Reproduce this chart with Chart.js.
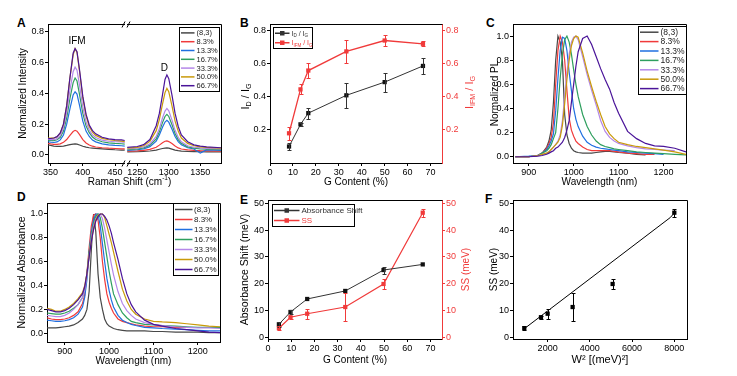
<!DOCTYPE html>
<html>
<head>
<meta charset="utf-8">
<script src="https://cdn.jsdelivr.net/npm/chart.js@4.4.1/dist/chart.umd.min.js"></script>
<style>
  body { margin: 0; background: #fff; width: 737px; height: 376px; overflow: hidden; position: relative; }
  canvas { position: absolute; }
  .tag { position: absolute; font: bold 12px "Liberation Sans", Arial, sans-serif; line-height: 12px; color: #000; }
</style>
</head>
<body>
<div class="tag" style="left:17px;top:17px">A</div>
<div class="tag" style="left:240px;top:17px">B</div>
<div class="tag" style="left:486px;top:17px">C</div>
<div class="tag" style="left:17px;top:191px">D</div>
<div class="tag" style="left:240px;top:194px">E</div>
<div class="tag" style="left:485px;top:193px">F</div>

<canvas id="cA"></canvas>
<canvas id="cB"></canvas>
<canvas id="cC"></canvas>
<canvas id="cD"></canvas>
<canvas id="cE"></canvas>
<canvas id="cF"></canvas>

<script>
// ---- series shared by A, C, D
const seriesNames = ["(8,3)", "8.3%", "13.3%", "16.7%", "33.3%", "50.0%", "66.7%"];
const seriesColors = ["#474747", "#f03a3a", "#1f6fe0", "#2e9f5e", "#b487e8", "#c99a0a", "#4a1499"];

// ---- tick values
const ramanLowTicks = [350, 400, 450];
const ramanHighTicks = [1250, 1300, 1350];
const intensityTicks = [0, 0.2, 0.4, 0.6, 0.8];
const ratioTicks = [0.2, 0.4, 0.6, 0.8];
const contentTicks = [0, 10, 20, 30, 40, 50, 60, 70];
const wavelengthTicks = [900, 1000, 1100, 1200];
const normTicks = [0, 0.2, 0.4, 0.6, 0.8, 1.0];
const meVTicks = [0, 10, 20, 30, 40, 50];
const wTicks = [2000, 4000, 6000, 8000];

// ---- A: Raman, two pieces of the x axis
const ramanLowX = [346, 350, 355, 360, 365, 370, 375, 380, 385, 388, 391, 395, 400, 405, 410, 415, 420, 430, 440, 450, 460, 465];
const ramanLow = [
  [0.065, 0.062, 0.058, 0.056, 0.056, 0.058, 0.062, 0.067, 0.071, 0.072, 0.07, 0.065, 0.057, 0.051, 0.047, 0.045, 0.043, 0.04, 0.037, 0.034, 0.032, 0.031],
  [0.076, 0.072, 0.069, 0.069, 0.072, 0.082, 0.1, 0.127, 0.152, 0.16, 0.154, 0.132, 0.1, 0.078, 0.065, 0.057, 0.052, 0.047, 0.044, 0.042, 0.04, 0.04],
  [0.086, 0.083, 0.081, 0.085, 0.098, 0.13, 0.2, 0.3, 0.39, 0.41, 0.395, 0.32, 0.22, 0.155, 0.12, 0.097, 0.085, 0.072, 0.066, 0.062, 0.06, 0.058],
  [0.096, 0.095, 0.093, 0.099, 0.115, 0.155, 0.24, 0.365, 0.47, 0.5, 0.48, 0.39, 0.27, 0.19, 0.145, 0.117, 0.1, 0.086, 0.079, 0.075, 0.073, 0.071],
  [0.102, 0.1, 0.1, 0.106, 0.125, 0.175, 0.275, 0.42, 0.54, 0.57, 0.55, 0.45, 0.31, 0.215, 0.16, 0.13, 0.113, 0.096, 0.089, 0.086, 0.085, 0.082],
  [0.11, 0.11, 0.11, 0.118, 0.142, 0.2, 0.32, 0.5, 0.65, 0.69, 0.665, 0.54, 0.37, 0.255, 0.185, 0.148, 0.127, 0.108, 0.099, 0.094, 0.09, 0.087],
  [0.106, 0.107, 0.11, 0.119, 0.143, 0.2, 0.32, 0.5, 0.66, 0.69, 0.67, 0.55, 0.38, 0.265, 0.195, 0.158, 0.137, 0.115, 0.105, 0.1, 0.098, 0.094]
];
const ramanHighX = [1234, 1250, 1260, 1270, 1280, 1285, 1290, 1294, 1297, 1300, 1305, 1310, 1315, 1320, 1330, 1340, 1350, 1360, 1383];
const ramanHigh = [
  [0.02, 0.021, 0.023, 0.026, 0.032, 0.037, 0.042, 0.045, 0.046, 0.044, 0.038, 0.032, 0.028, 0.025, 0.023, 0.022, 0.021, 0.02, 0.02],
  [0.025, 0.027, 0.03, 0.036, 0.05, 0.064, 0.08, 0.089, 0.091, 0.087, 0.074, 0.058, 0.046, 0.039, 0.033, 0.03, 0.028, 0.027, 0.025],
  [0.03, 0.034, 0.04, 0.054, 0.09, 0.13, 0.18, 0.214, 0.225, 0.213, 0.168, 0.12, 0.087, 0.066, 0.047, 0.039, 0.012, 0.033, 0.03],
  [0.034, 0.039, 0.046, 0.064, 0.105, 0.15, 0.21, 0.25, 0.264, 0.25, 0.198, 0.14, 0.1, 0.076, 0.053, 0.044, 0.04, 0.038, 0.035],
  [0.039, 0.044, 0.052, 0.072, 0.12, 0.17, 0.24, 0.285, 0.302, 0.286, 0.228, 0.16, 0.115, 0.086, 0.06, 0.05, 0.046, 0.043, 0.04],
  [0.044, 0.05, 0.06, 0.088, 0.158, 0.23, 0.33, 0.405, 0.432, 0.41, 0.32, 0.22, 0.155, 0.11, 0.075, 0.06, 0.053, 0.049, 0.045],
  [0.05, 0.055, 0.067, 0.1, 0.19, 0.27, 0.39, 0.49, 0.52, 0.495, 0.39, 0.27, 0.185, 0.13, 0.086, 0.066, 0.058, 0.053, 0.047]
];
const ramanPeaks = [{text: "IFM", x: 391, y: 0.735, axis: "xL"}, {text: "D", x: 1293, y: 0.563, axis: "xR"}];

// ---- B and E: against G content
const gContent = [8.3, 13.3, 16.7, 33.3, 50.0, 66.7];
const idIg = [0.1, 0.234, 0.302, 0.41, 0.49, 0.588];
const idIgErr = [0.02, 0.01, 0.033, 0.075, 0.057, 0.05];
const ifmIg = [0.18, 0.446, 0.56, 0.676, 0.742, 0.722];
const ifmIgErr = [0.04, 0.03, 0.046, 0.07, 0.031, 0.016];

const gContentE = [4.7, 9.7, 16.9, 33.3, 49.8, 66.7];
const absShift = [4.85, 9.45, 14.3, 17.3, 25.1, 27.2];
const absShiftErr = [1.0, 0.8, 0, 0, 1.3, 0];
const stokes = [3.4, 7.5, 8.8, 11.3, 19.9, 46.5];
const stokesErr = [0.8, 0.5, 1.9, 5.2, 2.0, 1.5];

// ---- C: PL spectra
const plX = [870, 900, 920, 930, 940, 945, 950, 955, 960, 965, 970, 975, 980, 985, 990, 995, 1000, 1005, 1010, 1020, 1030, 1040, 1050, 1060, 1070, 1080, 1090, 1100, 1120, 1140, 1160, 1180, 1200, 1225, 1250];
const plY = [
  [0, 0, 0.01, 0.03, 0.08, 0.13, 0.22, 0.45, 0.8, 1.0, 0.95, 0.8, 0.35, 0.18, 0.11, 0.07, 0.05, 0.04, 0.035, 0.03, 0.03, 0.03, 0.035, 0.04, 0.045, 0.045, 0.04, 0.035, 0.03, 0.02, 0.015, null, null, null, null],
  [0, 0, 0.01, 0.03, 0.07, 0.11, 0.16, 0.28, 0.6, 0.88, 1.0, 0.95, 0.8, 0.55, 0.32, 0.22, 0.17, 0.13, 0.11, 0.08, 0.06, 0.05, 0.05, 0.05, 0.05, 0.05, 0.045, 0.04, 0.03, 0.025, 0.02, 0.02, null, null, null],
  [0, 0.005, 0.01, 0.03, 0.06, 0.09, 0.13, 0.19, 0.38, 0.65, 0.88, 0.99, 0.98, 0.88, 0.7, 0.55, 0.4, 0.31, 0.25, 0.17, 0.12, 0.095, 0.08, 0.07, 0.065, 0.06, 0.055, 0.05, 0.04, 0.035, 0.03, 0.025, 0.02, null, null],
  [0, 0, 0.01, 0.03, 0.05, 0.07, 0.1, 0.15, 0.2, 0.4, 0.65, 0.85, 0.97, 1.0, 0.95, 0.85, 0.72, 0.6, 0.5, 0.35, 0.25, 0.18, 0.13, 0.1, 0.085, 0.075, 0.065, 0.06, 0.05, 0.04, 0.035, 0.03, 0.025, 0.02, 0.015],
  [0, 0, 0.01, 0.02, 0.03, 0.04, 0.06, 0.08, 0.1, 0.13, 0.18, 0.3, 0.5, 0.7, 0.85, 0.95, 0.99, 1.0, 0.97, 0.83, 0.68, 0.55, 0.43, 0.3, 0.21, 0.16, 0.13, 0.11, 0.09, 0.075, 0.065, 0.06, 0.055, 0.05, null],
  [0, 0, 0.01, 0.02, 0.03, 0.04, 0.06, 0.08, 0.1, 0.12, 0.16, 0.26, 0.44, 0.64, 0.8, 0.92, 0.98, 1.0, 0.99, 0.86, 0.71, 0.58, 0.46, 0.35, 0.25, 0.19, 0.15, 0.12, 0.1, 0.085, 0.075, 0.065, 0.055, 0.04, 0.02],
  [0, 0, 0.005, 0.01, 0.02, 0.03, 0.04, 0.05, 0.07, 0.08, 0.1, 0.12, 0.16, 0.22, 0.3, 0.45, 0.6, 0.75, 0.87, 0.98, 1.0, 0.93, 0.83, 0.73, 0.64, 0.56, 0.45, 0.36, 0.21, 0.15, 0.11, 0.09, 0.085, 0.07, 0.04]
];

// ---- D: absorbance spectra
const absX = [860, 870, 880, 890, 900, 910, 920, 930, 940, 945, 950, 955, 960, 965, 970, 975, 980, 985, 990, 995, 1000, 1005, 1010, 1020, 1030, 1040, 1050, 1060, 1080, 1100, 1120, 1150, 1175, 1200, 1225, 1250];
const absY = [
  [0.045, 0.045, 0.045, 0.05, 0.055, 0.06, 0.07, 0.09, 0.12, 0.15, 0.2, 0.35, 0.7, 1.0, 0.85, 0.5, 0.3, 0.2, 0.12, 0.08, 0.06, 0.05, 0.04, 0.03, 0.025, 0.02, 0.02, 0.02, 0.02, 0.015, 0.015, 0.01, 0.01, 0.01, 0.005, 0.005],
  [0.13, 0.12, 0.115, 0.115, 0.12, 0.13, 0.15, 0.18, 0.25, 0.32, 0.5, 0.72, 0.9, 0.99, 1.0, 0.95, 0.8, 0.6, 0.45, 0.33, 0.26, 0.21, 0.17, 0.12, 0.1, 0.09, 0.08, 0.07, 0.06, 0.055, 0.055, 0.05, 0.05, null, null, null],
  [0.11, 0.105, 0.1, 0.1, 0.105, 0.115, 0.13, 0.16, 0.22, 0.3, 0.45, 0.68, 0.85, 0.95, 1.0, 1.0, 0.9, 0.75, 0.6, 0.46, 0.36, 0.28, 0.22, 0.15, 0.11, 0.09, 0.075, 0.065, 0.05, 0.045, 0.04, 0.035, 0.03, 0.025, 0.02, 0.02],
  [0.17, 0.165, 0.16, 0.16, 0.17, 0.185, 0.21, 0.24, 0.3, 0.36, 0.5, 0.68, 0.82, 0.92, 0.98, 1.0, 0.97, 0.88, 0.76, 0.64, 0.52, 0.42, 0.33, 0.24, 0.17, 0.13, 0.1, 0.09, 0.075, 0.07, 0.065, 0.06, 0.055, 0.05, 0.05, 0.05],
  [0.15, 0.145, 0.14, 0.14, 0.15, 0.17, 0.2, 0.24, 0.3, 0.36, 0.48, 0.65, 0.8, 0.9, 0.96, 0.99, 1.0, 0.96, 0.88, 0.78, 0.68, 0.58, 0.49, 0.35, 0.25, 0.19, 0.15, 0.12, 0.09, 0.075, 0.065, 0.055, 0.05, 0.045, 0.045, 0.04],
  [0.21, 0.2, 0.185, 0.185, 0.2, 0.22, 0.25, 0.29, 0.34, 0.4, 0.5, 0.65, 0.78, 0.88, 0.95, 0.99, 1.0, 1.0, 0.97, 0.9, 0.83, 0.76, 0.68, 0.52, 0.37, 0.27, 0.2, 0.16, 0.12, 0.1, 0.095, 0.09, 0.08, 0.07, 0.06, 0.055],
  [0.2, 0.19, 0.18, 0.18, 0.19, 0.21, 0.24, 0.28, 0.33, 0.39, 0.5, 0.64, 0.77, 0.87, 0.94, 0.98, 1.0, 1.0, 0.98, 0.95, 0.9, 0.84, 0.76, 0.62, 0.46, 0.33, 0.24, 0.18, 0.11, 0.075, 0.06, 0.04, 0.03, 0.02, 0.01, 0.005]
];

// ---- F: SS against W^2, with the fitted line
const wSquared = [895, 1684, 2000, 3184, 5078, 8000];
const fitX = [860, 7810, 8000];
const fitY = [3.0, 44.7, 46.4];

const FONT = '"Liberation Sans", Arial, sans-serif';
const RED = "#f03a3a";
Chart.defaults.font.family = FONT;
Chart.defaults.font.size = 9;
Chart.defaults.color = "#000";
Chart.defaults.animation = false;

function xy(xs, ys) {
  return xs.map((x, i) => ({x: x, y: ys[i]}));
}

// canvas box and plot area in page pixels -> sizes for the axes
function place(id, box, plot, rightAxis) {
  const cv = document.getElementById(id);
  cv.width = box.w;
  cv.height = box.h;
  cv.style.left = box.x + "px";
  cv.style.top = box.y + "px";
  return {
    yW: plot.l - box.x,
    yRW: box.x + box.w - plot.r,
    xH: box.y + box.h - plot.b,
    padding: {left: 0, top: plot.t - box.y, right: rightAxis ? 0 : box.x + box.w - plot.r, bottom: 0}
  };
}

function plain(v) { return String(v); }
function oneDecimal(v) { return v.toFixed(1); }

// one axis in the Origin look: outward ticks, fixed tick values, fixed box size
function axis(o) {
  const color = o.color || "#000";
  const a = {
    type: "linear",
    position: o.position,
    min: o.min,
    max: o.max,
    border: {display: true, color: color, width: 1},
    grid: {display: true, drawOnChartArea: false, drawTicks: true, tickLength: 3, tickColor: color, color: color},
    ticks: {color: color, padding: 1, autoSkip: false, maxRotation: 0, font: {size: 9}, callback: o.format || plain},
    afterBuildTicks: s => { s.ticks = o.ticks.map(v => ({value: v})); },
    afterFit: s => {
      if (o.position === "bottom") s.height = o.size; else s.width = o.size;
    },
    title: o.title ? {display: true, text: o.title, font: {size: o.titleSize || 10}, color: color,
      padding: o.position === "bottom" ? {top: 0, bottom: o.titlePad} : {top: o.titlePad, bottom: 0}} : {display: false}
  };
  if (o.stack) { a.stack = o.stack; a.stackWeight = o.weight; }
  return a;
}

// text with sub / superscript parts: [[text], [text, "sub"], [text, "sup"]]
function richText(ctx, parts, x, y, size, align) {
  let w = 0;
  const seg = parts.map(p => {
    const small = p[1] === "sub" || p[1] === "sup";
    const f = (small ? size * 0.65 : size) + "px " + FONT;
    ctx.font = f;
    const sw = ctx.measureText(p[0]).width;
    w += sw;
    return {t: p[0], f: f, sw: sw, dy: p[1] === "sub" ? size * 0.3 : (p[1] === "sup" ? -size * 0.35 : 0)};
  });
  let cx = align === "center" ? x - w / 2 : x;
  ctx.textAlign = "left";
  ctx.textBaseline = "middle";
  seg.forEach(s => {
    ctx.font = s.f;
    ctx.fillText(s.t, cx, y + s.dy);
    cx += s.sw;
  });
}

function framePlugin(right) {
  return {
    id: "frame",
    afterDatasetsDraw(chart) {
      const {ctx, chartArea: a} = chart;
      ctx.save();
      ctx.strokeStyle = "#000";
      ctx.lineWidth = 1;
      ctx.beginPath();
      const t = Math.round(a.top) + 0.5, r = Math.round(a.right) + 0.5;
      ctx.moveTo(Math.round(a.left), t);
      ctx.lineTo(r, t);
      if (right) ctx.lineTo(r, Math.round(a.bottom) + 0.5);
      ctx.stroke();
      ctx.restore();
    }
  };
}

const errorBars = {
  id: "errorBars",
  afterDatasetsDraw(chart) {
    const ctx = chart.ctx;
    chart.data.datasets.forEach((ds, i) => {
      if (!ds.errors) return;
      const meta = chart.getDatasetMeta(i);
      const ys = chart.scales[meta.yAxisID];
      ctx.save();
      ctx.strokeStyle = ds.borderColor;
      ctx.lineWidth = 1;
      meta.data.forEach((pt, j) => {
        const e = ds.errors[j];
        if (!e) return;
        const v = ds.data[j].y;
        const y1 = Math.round(ys.getPixelForValue(v + e)) + 0.5;
        const y2 = Math.round(ys.getPixelForValue(v - e)) + 0.5;
        const x = Math.round(pt.x) + 0.5;
        ctx.beginPath();
        ctx.moveTo(x, y1); ctx.lineTo(x, y2);
        ctx.moveTo(x - 2, y1); ctx.lineTo(x + 2, y1);
        ctx.moveTo(x - 2, y2); ctx.lineTo(x + 2, y2);
        ctx.stroke();
      });
      ctx.restore();
    });
  }
};

function legendPlugin(cfg) {
  return {
    id: "boxLegend",
    afterDatasetsDraw(chart) {
      const {ctx, chartArea: a} = chart;
      const items = chart.data.datasets.filter(d => !d.noLegend);
      const h = Math.round(items.length * cfg.rowH + 2);
      const left = cfg.corner === "left" ? a.left + cfg.dx : a.right - cfg.dx - cfg.w;
      const L = Math.round(left) + 0.5, T = Math.round(a.top + cfg.dy) + 0.5;
      ctx.save();
      ctx.fillStyle = "#fff";
      ctx.fillRect(L, T, cfg.w, h);
      ctx.strokeStyle = "#000";
      ctx.lineWidth = 1;
      ctx.strokeRect(L, T, Math.round(cfg.w), h);
      items.forEach((d, i) => {
        const y = T + 1 + cfg.rowH * (i + 0.5);
        ctx.strokeStyle = d.borderColor;
        ctx.lineWidth = 1.5;
        ctx.beginPath();
        ctx.moveTo(L + cfg.line[0], y);
        ctx.lineTo(L + cfg.line[1], y);
        ctx.stroke();
        if (d.pointRadius) {
          const s = 4.5, cx = L + (cfg.line[0] + cfg.line[1]) / 2;
          ctx.fillStyle = d.borderColor;
          ctx.fillRect(cx - s / 2, y - s / 2, s, s);
        }
        ctx.fillStyle = cfg.textColor || d.borderColor;
        richText(ctx, d.rich || [[d.label]], L + cfg.textX, y + 0.5, cfg.size, "left");
      });
      ctx.restore();
    }
  };
}

// titles drawn by hand: rotated side titles (reading upwards) and bottom titles
function titlesPlugin(list) {
  return {
    id: "titles",
    afterDraw(chart) {
      const {ctx, chartArea: a} = chart;
      list.forEach(t => {
        ctx.save();
        ctx.fillStyle = t.color || "#000";
        const cy = (a.top + a.bottom) / 2 + (t.shift || 0);
        const cx = (a.left + a.right) / 2 + (t.shift || 0);
        if (t.side === "bottom") {
          richText(ctx, t.parts, cx, a.bottom + t.off, t.size, "center");
        } else {
          ctx.translate(t.side === "left" ? a.left - t.off : a.right + t.off, cy);
          ctx.rotate(-Math.PI / 2);
          richText(ctx, t.parts, 0, 0, t.size, "center");
        }
        ctx.restore();
      });
    }
  };
}

const breakMarks = {
  id: "breakMarks",
  afterDraw(chart) {
    const {ctx, chartArea: a} = chart;
    const bx = Math.round(chart.scales.xL.right);
    [Math.round(a.top) + 0.5, Math.round(a.bottom) + 0.5].forEach(y => {
      ctx.save();
      ctx.fillStyle = "#fff";
      ctx.fillRect(bx - 1, y - 2, 2, 4);
      ctx.strokeStyle = "#000";
      ctx.lineWidth = 1;
      ctx.beginPath();
      ctx.moveTo(bx - 4, y + 3); ctx.lineTo(bx - 1, y - 3);
      ctx.moveTo(bx + 1, y + 3); ctx.lineTo(bx + 4, y - 3);
      ctx.stroke();
      ctx.restore();
    });
  }
};

const peakText = {
  id: "peakText",
  afterDatasetsDraw(chart) {
    const ctx = chart.ctx;
    ctx.save();
    ctx.fillStyle = "#000";
    ctx.font = "10px " + FONT;
    ctx.textAlign = "center";
    ctx.textBaseline = "middle";
    ramanPeaks.forEach(p => {
      ctx.fillText(p.text, chart.scales[p.axis].getPixelForValue(p.x), chart.scales.y.getPixelForValue(p.y));
    });
    ctx.restore();
  }
};

function spectra(xs, rows, extra) {
  return rows.map((ys, i) => Object.assign({
    label: seriesNames[i],
    data: xy(xs, ys),
    borderColor: seriesColors[i],
    backgroundColor: seriesColors[i],
    borderWidth: 1.2,
    pointRadius: 0,
    order: rows.length - i
  }, extra || {}));
}

const noLegend = {legend: {display: false}, tooltip: {enabled: false}};

// ---------------- A
const gA = place("cA", {x: 0, y: 0, w: 245, h: 190}, {l: 48, t: 24, r: 221, b: 163}, false);
new Chart(document.getElementById("cA"), {
  type: "line",
  data: {datasets: spectra(ramanLowX, ramanLow, {xAxisID: "xL"}).concat(spectra(ramanHighX, ramanHigh, {xAxisID: "xR", noLegend: true}))},
  options: {
    responsive: false,
    layout: {padding: gA.padding},
    plugins: noLegend,
    scales: {
      xL: axis({position: "bottom", stack: "raman", weight: 78, min: 346, max: 467, ticks: ramanLowTicks, size: gA.xH}),
      xR: axis({position: "bottom", stack: "raman", weight: 95, min: 1232, max: 1383, ticks: ramanHighTicks, size: gA.xH}),
      y: axis({position: "left", min: -0.052, max: 0.85, ticks: intensityTicks, format: oneDecimal, size: gA.yW,
        title: "Normalized Intensity", titlePad: 17})
    }
  },
  plugins: [framePlugin(true), breakMarks, peakText, titlesPlugin([
    {side: "bottom", parts: [["Raman Shift (cm"], ["-1", "sup"], [")"]], size: 10, off: 19, shift: -5}
  ]), legendPlugin({corner: "right", dx: 2.5, dy: 2.5, w: 40, rowH: 8.8, line: [1.5, 15], textX: 17, size: 7.5, textColor: "#222"})]
});

// ---------------- B
const gB = place("cB", {x: 236, y: 0, w: 245, h: 190}, {l: 270, t: 24, r: 442, b: 163}, true);
new Chart(document.getElementById("cB"), {
  type: "line",
  data: {datasets: [
    {label: "ID/IG", rich: [["I"], ["D", "sub"], [" / I"], ["G", "sub"]], data: xy(gContent, idIg), errors: idIgErr, yAxisID: "y",
      borderColor: "#333", backgroundColor: "#111", borderWidth: 1, pointStyle: "rect", pointRadius: 3, pointBorderWidth: 0},
    {label: "IIFM/IG", rich: [["I"], ["IFM", "sub"], [" / I"], ["G", "sub"]], data: xy(gContent, ifmIg), errors: ifmIgErr, yAxisID: "y2",
      borderColor: RED, backgroundColor: RED, borderWidth: 1.3, pointStyle: "rect", pointRadius: 3, pointBorderWidth: 0}
  ]},
  options: {
    responsive: false,
    layout: {padding: gB.padding},
    plugins: noLegend,
    scales: {
      x: axis({position: "bottom", min: 0, max: 75, ticks: contentTicks, size: gB.xH, title: "G Content (%)", titlePad: 2}),
      y: axis({position: "left", min: 0, max: 0.842, ticks: ratioTicks, format: oneDecimal, size: gB.yW}),
      y2: axis({position: "right", color: RED, min: 0, max: 0.842, ticks: ratioTicks, format: oneDecimal, size: gB.yRW})
    }
  },
  plugins: [framePlugin(false), errorBars, titlesPlugin([
    {side: "left", parts: [["I"], ["D", "sub"], [" / I"], ["G", "sub"]], size: 11, off: 24, shift: 3},
    {side: "right", parts: [["I"], ["IFM", "sub"], [" / I"], ["G", "sub"]], size: 11, off: 28, shift: -1, color: RED}
  ]), legendPlugin({corner: "left", dx: 3, dy: 2.5, w: 38.5, rowH: 9.5, line: [1.5, 16], textX: 18, size: 7})]
});

// ---------------- C
const gC = place("cC", {x: 482, y: 0, w: 255, h: 190}, {l: 513, t: 24, r: 686, b: 163}, false);
new Chart(document.getElementById("cC"), {
  type: "line",
  data: {datasets: spectra(plX, plY)},
  options: {
    responsive: false,
    layout: {padding: gC.padding},
    plugins: noLegend,
    scales: {
      x: axis({position: "bottom", min: 865, max: 1250, ticks: wavelengthTicks, size: gC.xH, title: "Wavelength (nm)", titlePad: 2}),
      y: axis({position: "left", min: -0.052, max: 1.1, ticks: normTicks, format: oneDecimal, size: gC.yW,
        title: "Normalized PL", titlePad: 7.5})
    }
  },
  plugins: [framePlugin(true), legendPlugin({corner: "right", dx: 0, dy: 2, w: 48, rowH: 9.4, line: [1.5, 20], textX: 22, size: 8.5, textColor: "#222"})]
});

// ---------------- D
const gD = place("cD", {x: 0, y: 186, w: 245, h: 190}, {l: 47, t: 203, r: 220, b: 342}, false);
new Chart(document.getElementById("cD"), {
  type: "line",
  data: {datasets: spectra(absX, absY)},
  options: {
    responsive: false,
    layout: {padding: gD.padding},
    plugins: noLegend,
    scales: {
      x: axis({position: "bottom", min: 860, max: 1250, ticks: wavelengthTicks, size: gD.xH, title: "Wavelength (nm)", titlePad: 9}),
      y: axis({position: "left", min: -0.073, max: 1.092, ticks: normTicks, format: oneDecimal, size: gD.yW,
        title: "Normalized Absorbance", titleSize: 10.5, titlePad: 16})
    }
  },
  plugins: [framePlugin(true), legendPlugin({corner: "right", dx: 2, dy: 0, w: 45, rowH: 10, line: [1.5, 19], textX: 20.5, size: 8, textColor: "#222"})]
});

// ---------------- E
const gE = place("cE", {x: 236, y: 186, w: 245, h: 190}, {l: 268, t: 200, r: 442, b: 339}, true);
new Chart(document.getElementById("cE"), {
  type: "line",
  data: {datasets: [
    {label: "Absorbance Shift", data: xy(gContentE, absShift), errors: absShiftErr, yAxisID: "y",
      borderColor: "#333", backgroundColor: "#111", borderWidth: 1, pointStyle: "rect", pointRadius: 3, pointBorderWidth: 0},
    {label: "SS", data: xy(gContentE, stokes), errors: stokesErr, yAxisID: "y2",
      borderColor: RED, backgroundColor: RED, borderWidth: 1.2, pointStyle: "rect", pointRadius: 3, pointBorderWidth: 0}
  ]},
  options: {
    responsive: false,
    layout: {padding: gE.padding},
    plugins: noLegend,
    scales: {
      x: axis({position: "bottom", min: 0, max: 75, ticks: contentTicks, size: gE.xH, title: "G Content (%)", titlePad: 10}),
      y: axis({position: "left", min: -0.63, max: 51.23, ticks: meVTicks, size: gE.yW,
        title: "Absorbance Shift (meV)", titleSize: 10.5, titlePad: 2.7}),
      y2: axis({position: "right", color: RED, min: -0.63, max: 51.23, ticks: meVTicks, size: gE.yRW})
    }
  },
  plugins: [framePlugin(false), errorBars, titlesPlugin([
    {side: "right", parts: [["SS (meV)"]], size: 10, off: 24.5, shift: 0, color: RED}
  ]), legendPlugin({corner: "left", dx: 3.5, dy: 3.5, w: 81.5, rowH: 10, line: [1.5, 27], textX: 29, size: 8})]
});

// ---------------- F
const gF = place("cF", {x: 482, y: 186, w: 255, h: 190}, {l: 513, t: 200, r: 687, b: 339}, false);
new Chart(document.getElementById("cF"), {
  type: "line",
  data: {datasets: [
    {label: "SS", data: xy(wSquared, stokes), errors: stokesErr, showLine: false,
      borderColor: "#000", backgroundColor: "#000", pointStyle: "rect", pointRadius: 3, pointBorderWidth: 0},
    {label: "fit", data: xy(fitX, fitY), borderColor: "#000", borderWidth: 1, pointRadius: 0}
  ]},
  options: {
    responsive: false,
    layout: {padding: gF.padding},
    plugins: noLegend,
    scales: {
      x: axis({position: "bottom", min: 360, max: 8600, ticks: wTicks, size: gF.xH, title: "W² [(meV)²]", titleSize: 11, titlePad: 9.4}),
      y: axis({position: "left", min: -0.63, max: 51.23, ticks: meVTicks, size: gF.yW, title: "SS (meV)", titlePad: 6})
    }
  },
  plugins: [framePlugin(true), errorBars]
});
</script>
</body>
</html>
